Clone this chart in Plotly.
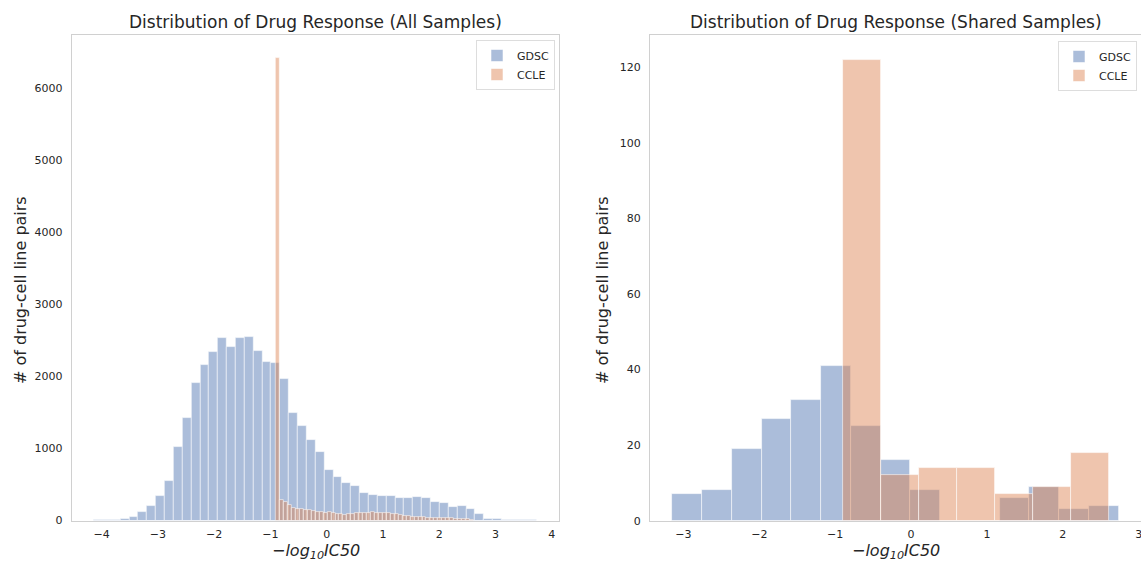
import plotly.graph_objects as go

# ---------------- data ----------------
# Left panel (All Samples): 50-bin histograms
gdsc_all_bin_start = -4.139
gdsc_all_bin_width = 0.1576
gdsc_all_counts = [1, 2, 10, 23, 46, 115, 208, 346, 554, 1016,
                   1423, 1903, 2158, 2342, 2527, 2402, 2527, 2550, 2347, 2195,
                   2181, 1963, 1492, 1307, 1123, 947, 707, 605, 527, 481,
                   384, 360, 337, 342, 310, 310, 328, 314, 259, 236,
                   185, 203, 162, 88, 23, 14, 4, 2, 1, 1]

ccle_all_bin_start = -0.903
ccle_all_bin_width = 0.0703
ccle_all_counts = [6420, 290, 250, 215, 180, 165, 160, 150, 140, 130,
                   120, 115, 110, 112, 105, 95, 85, 82, 88, 95,
                   100, 105, 108, 110, 112, 110, 105, 100, 98, 92,
                   85, 75, 65, 58, 52, 48, 45, 42, 40, 38,
                   35, 33, 32, 30, 28, 25, 22, 18, 14, 10]

# Right panel (Shared Samples)
gdsc_shared_bin_start = -3.147
gdsc_shared_bin_width = 0.3922
gdsc_shared_counts = [7, 8, 19, 27, 32, 41, 25, 16, 8, 0, 0, 6, 9, 3, 4]

ccle_shared_bin_start = -0.903
ccle_shared_bin_width = 0.502
ccle_shared_counts = [122, 12, 14, 14, 7, 9, 18]

series_names = ["GDSC", "CCLE"]
titles = ["Distribution of Drug Response (All Samples)",
          "Distribution of Drug Response (Shared Samples)"]
x_label = "<i>−log<sub>10</sub>IC50</i>"
y_label = "# of drug-cell line pairs"
left_xticks = [-4, -3, -2, -1, 0, 1, 2, 3, 4]
left_yticks = [0, 1000, 2000, 3000, 4000, 5000, 6000]
right_xticks = [-3, -2, -1, 0, 1, 2, 3]
right_yticks = [0, 20, 40, 60, 80, 100, 120]

# ---------------- styling / page geometry ----------------
W, H = 1141, 562
BLUE = "rgba(76,114,176,0.47)"
ORANGE = "rgba(221,132,82,0.47)"
EDGE = "rgba(255,255,255,0.7)"
TXT = "#262626"
SPINE = "#d0d0d0"
FONT = "DejaVu Sans"


def centers(start, width, counts):
    return [start + width * (i + 0.5) for i in range(len(counts))]


def px_x(p):
    return p / W


def px_y(p):
    return (H - p) / H


fig = go.Figure()

panels = [
    (gdsc_all_bin_start, gdsc_all_bin_width, gdsc_all_counts,
     ccle_all_bin_start, ccle_all_bin_width, ccle_all_counts, "x", "y", "legend"),
    (gdsc_shared_bin_start, gdsc_shared_bin_width, gdsc_shared_counts,
     ccle_shared_bin_start, ccle_shared_bin_width, ccle_shared_counts, "x2", "y2", "legend2"),
]

for gs, gw, gc, cs, cw, cc, xa, ya, lg in panels:
    fig.add_trace(go.Bar(x=centers(gs, gw, gc), y=gc, width=gw, name=series_names[0],
                         marker=dict(color=BLUE, line=dict(color=EDGE, width=0.8)),
                         xaxis=xa, yaxis=ya, legend=lg))
    fig.add_trace(go.Bar(x=centers(cs, cw, cc), y=cc, width=cw, name=series_names[1],
                         marker=dict(color=ORANGE, line=dict(color=EDGE, width=0.8)),
                         xaxis=xa, yaxis=ya, legend=lg))

axis_common = dict(showgrid=False, zeroline=False, showline=True, mirror=True,
                   linecolor=SPINE, linewidth=1.2, ticks="outside",
                   tickcolor="rgba(0,0,0,0)",
                   tickfont=dict(family=FONT, size=11, color=TXT),
                   automargin=False)

legend_common = dict(xanchor="right", yanchor="top",
                     bgcolor="rgba(255,255,255,0.8)", bordercolor="#dddddd", borderwidth=1,
                     font=dict(family=FONT, size=11, color=TXT), tracegroupgap=0,
                     itemwidth=30)

fig.update_layout(
    width=W, height=H,
    margin=dict(l=0, r=0, t=0, b=0),
    paper_bgcolor="white", plot_bgcolor="white",
    barmode="overlay", bargap=0,
    font=dict(family=FONT, color=TXT),
    xaxis=dict(domain=[px_x(71.7), px_x(559.3)], range=[-4.533, 4.135],
               tickvals=left_xticks, ticklen=3, anchor="y", **axis_common),
    yaxis=dict(domain=[px_y(520.5), px_y(35)], range=[0, 6734],
               tickvals=left_yticks, ticklen=6, anchor="x", **axis_common),
    xaxis2=dict(domain=[px_x(650), px_x(1141)], range=[-3.441, 3.03],
                tickvals=right_xticks, ticklen=3, anchor="y2",
                ticklabeloverflow="allow", **axis_common),
    yaxis2=dict(domain=[px_y(520.7), px_y(35)], range=[0, 128.5],
                tickvals=right_yticks, ticklen=6, anchor="x2", **axis_common),
    legend=dict(x=px_x(555), y=px_y(40), **legend_common),
    legend2=dict(x=px_x(1137), y=px_y(41), **legend_common),
    showlegend=True,
)

# subplot titles
for txt, cx in [(titles[0], (71.7 + 559.3) / 2), (titles[1], (650 + 1141) / 2)]:
    fig.add_annotation(text=txt, x=px_x(cx), y=px_y(22),
                       xref="paper", yref="paper", showarrow=False,
                       xanchor="center", yanchor="middle",
                       font=dict(family=FONT, size=17, color=TXT))

# axis titles
for cx in [(71.7 + 559.3) / 2, (650 + 1141) / 2]:
    fig.add_annotation(text=x_label, x=px_x(cx), y=px_y(551),
                       xref="paper", yref="paper", showarrow=False,
                       xanchor="center", yanchor="middle",
                       font=dict(family=FONT, size=16, color=TXT))
for cx in [20, 602]:
    fig.add_annotation(text=y_label, x=px_x(cx), y=px_y(290), textangle=-90,
                       xref="paper", yref="paper", showarrow=False,
                       xanchor="center", yanchor="middle",
                       font=dict(family=FONT, size=16, color=TXT))

# remove the default page margin so the figure fills the window exactly
fig.write_html(
    "out.html",
    config={"displayModeBar": False},
    post_script="document.body.style.margin='0';document.body.style.overflow='hidden';",
)
